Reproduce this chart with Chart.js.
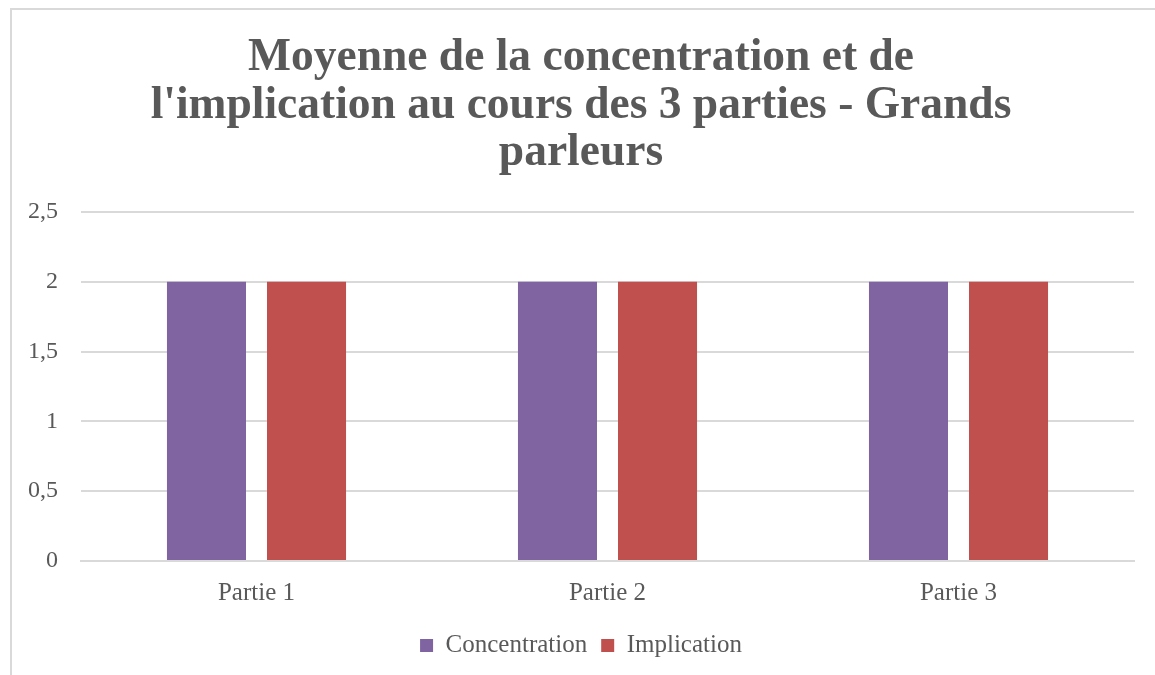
<!DOCTYPE html>
<html>
<head>
<meta charset="utf-8">
<script src="https://cdn.jsdelivr.net/npm/chart.js@4/dist/chart.umd.min.js"></script>
<style>
  html, body { margin: 0; padding: 0; background: #fff; }
  #wrap { position: relative; width: 1155px; height: 675px; overflow: hidden; }
  #frame { position: absolute; left: 10px; top: 8px; width: 1160px; height: 700px; border: 2px solid #d9d9d9; box-sizing: border-box; }
  canvas { position: absolute; left: 0; top: 0; }
</style>
</head>
<body>
<div id="wrap">
  <div id="frame"></div>
  <canvas id="chart" width="1155" height="675"></canvas>
</div>
<script>
// Data
const categories = ['Partie 1', 'Partie 2', 'Partie 3'];
const concentration = [2, 2, 2];
const implication = [2, 2, 2];
const titleLines = ['Moyenne de la concentration et de', "l'implication au cours des 3 parties - Grands", 'parleurs'];

const textColor = '#595959';
const serif = "'Liberation Serif', 'DejaVu Serif', serif";

new Chart(document.getElementById('chart').getContext('2d'), {
    type: 'bar',
    data: {
        labels: categories,
        datasets: [{
            label: 'Concentration',
            data: concentration,
            backgroundColor: '#8064A2'
        }, {
            label: 'Implication',
            data: implication,
            backgroundColor: '#C0504D'
        }]
    },
    options: {
        responsive: false,
        animation: false,
        categoryPercentage: 0.57,
        barPercentage: 0.79,
        // left padding pushes title and legend towards the frame centre
        layout: { padding: { left: 28, right: 21, top: 35, bottom: 7 } },
        plugins: {
            title: {
                display: true,
                text: titleLines,
                color: textColor,
                font: { family: serif, size: 45.5, weight: 'bold', lineHeight: 1.04 },
                padding: { top: 0, bottom: 35 }
            },
            legend: {
                position: 'bottom',
                labels: {
                    color: textColor,
                    font: { family: serif, size: 25 },
                    boxWidth: 13,
                    boxHeight: 13,
                    padding: 14
                }
            },
            tooltip: { enabled: false }
        },
        scales: {
            x: {
                afterFit: scale => { scale.height = 58; },
                grid: { display: false },
                border: { display: true, color: '#d9d9d9', width: 2 },
                ticks: { color: textColor, font: { family: serif, size: 25 }, padding: 9 }
            },
            y: {
                min: 0,
                max: 2.5,
                afterFit: scale => { scale.width = 53; },
                grid: { color: '#d9d9d9', lineWidth: 2, drawTicks: false },
                border: { display: false },
                ticks: {
                    stepSize: 0.5,
                    color: textColor,
                    font: { family: serif, size: 24 },
                    padding: 23,
                    callback: v => String(v).replace('.', ',')
                }
            }
        }
    }
});
</script>
</body>
</html>
